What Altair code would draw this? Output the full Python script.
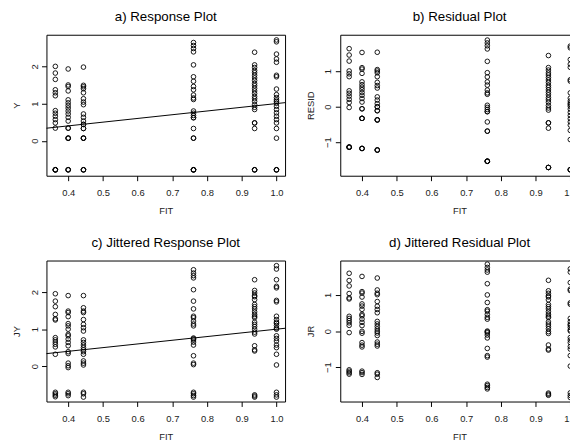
import altair as alt
import pandas as pd

# ---- data ----
fit_levels = [0.363, 0.400, 0.444, 0.761, 0.937, 1.000]

y_c1 = [2.00, 1.82, 1.65, 1.37, 1.29, 1.21, 0.81, 0.74, 0.66, 0.57, 0.48, 0.34, -0.78, -0.78, -0.78, -0.78]
jy_c1 = [1.96, 1.76, 1.61, 1.40, 1.28, 1.25, 0.77, 0.71, 0.65, 0.59, 0.52, 0.32, -0.71, -0.75, -0.79, -0.83]

y_c2 = [1.93, 1.50, 1.46, 1.34, 1.10, 1.02, 0.95, 0.88, 0.80, 0.72, 0.63, 0.53, 0.34, 0.34, 0.07, 0.07, 0.07, -0.78, -0.78, -0.78]
jy_c2 = [1.91, 1.49, 1.45, 1.34, 1.15, 1.09, 1.00, 0.86, 0.82, 0.73, 0.64, 0.55, 0.39, 0.34, 0.08, 0.01, -0.04, -0.71, -0.75, -0.80]

y_c3 = [1.98, 1.49, 1.45, 1.40, 1.29, 1.13, 1.04, 0.97, 0.72, 0.63, 0.53, 0.44, 0.44, 0.33, 0.33, 0.07, 0.07, 0.07, -0.78, -0.78, -0.78]
jy_c3 = [1.91, 1.58, 1.49, 1.45, 1.26, 1.13, 1.04, 0.95, 0.71, 0.64, 0.57, 0.50, 0.44, 0.39, 0.32, 0.14, 0.08, 0.03, -0.71, -0.75, -0.84]

y_c4 = [2.64, 2.56, 2.48, 2.39, 2.04, 1.72, 1.60, 1.46, 1.37, 1.23, 1.15, 1.11, 0.80, 0.74, 0.68, 0.62, 0.62, 0.33, 0.07, 0.07, -0.78, -0.78, -0.78, -0.78]
jy_c4 = [2.61, 2.52, 2.45, 2.39, 2.07, 1.76, 1.55, 1.35, 1.31, 1.22, 1.14, 1.09, 0.76, 0.74, 0.71, 0.65, 0.57, 0.28, 0.08, 0.04, -0.71, -0.75, -0.80, -0.84]

y_c5 = [2.38, 2.04, 1.97, 1.89, 1.83, 1.76, 1.69, 1.62, 1.54, 1.48, 1.41, 1.34, 1.27, 1.19, 1.13, 1.06, 0.97, 0.90, 0.84, 0.48, 0.48, 0.33, -0.78, -0.78, -0.78]
jy_c5 = [2.34, 2.05, 1.98, 1.91, 1.88, 1.80, 1.67, 1.61, 1.55, 1.47, 1.40, 1.35, 1.31, 1.19, 1.13, 1.07, 1.00, 0.92, 0.87, 0.55, 0.44, 0.41, -0.78, -0.81, -0.84]

y_c6 = [2.71, 2.66, 2.33, 2.20, 2.11, 1.76, 1.72, 1.39, 1.24, 1.16, 1.10, 1.06, 1.01, 0.93, 0.84, 0.75, 0.66, 0.57, 0.48, 0.33, 0.07, -0.78, -0.78, -0.78]
jy_c6 = [2.72, 2.63, 2.34, 2.16, 2.12, 1.78, 1.74, 1.35, 1.26, 1.19, 1.16, 1.10, 1.03, 1.00, 0.82, 0.75, 0.68, 0.57, 0.50, 0.32, 0.03, -0.71, -0.78, -0.84]

x_ticks = [0.4, 0.5, 0.6, 0.7, 0.8, 0.9, 1.0]
line_x = [0.3, 1.1]   # identity line Y = FIT

# ---- table ----
rows = []
for f, ys, jys in zip(fit_levels,
                      [y_c1, y_c2, y_c3, y_c4, y_c5, y_c6],
                      [jy_c1, jy_c2, jy_c3, jy_c4, jy_c5, jy_c6]):
    for y, jy in zip(ys, jys):
        rows.append({"FIT": f, "Y": y, "JY": jy})
df = pd.DataFrame(rows)
line_df = pd.DataFrame({"lx": line_x, "ly": line_x})

FONT = "Liberation Sans"
XDOM = [0.3374, 1.0247]
W, H = 242, 143


def panel(title, field, ytitle, ydom, yticks, with_line):
    xscale = alt.Scale(domain=XDOM, nice=False, zero=False)
    yscale = alt.Scale(domain=ydom, nice=False, zero=False)
    xaxis = alt.Axis(values=x_ticks, format=".1f", title="FIT")
    yaxis = alt.Axis(values=yticks, format="d", title=ytitle, labelAngle=270)
    pts = (
        alt.Chart(df)
        .transform_calculate(RESID="datum.Y - datum.FIT", JR="datum.JY - datum.FIT")
        .mark_point(shape="circle", filled=False, color="black", size=22,
                    strokeWidth=0.9, opacity=1, clip=True)
        .encode(
            x=alt.X("FIT:Q", scale=xscale, axis=xaxis),
            y=alt.Y(f"{field}:Q", scale=yscale, axis=yaxis),
        )
    )
    layers = [pts]
    if with_line:
        ln = (
            alt.Chart(line_df)
            .mark_line(color="black", strokeWidth=1, clip=True)
            .encode(x=alt.X("lx:Q", scale=xscale, axis=xaxis),
                    y=alt.Y("ly:Q", scale=yscale, axis=yaxis))
        )
        layers.append(ln)
    return alt.layer(*layers).properties(
        width=W, height=H,
        title=alt.TitleParams(title, font=FONT, fontSize=13.5, fontWeight="normal",
                              color="black", anchor="middle", frame="group",
                              baseline="alphabetic", offset=10.5, dy=10.5),
    )


a = panel("a) Response Plot", "Y", "Y", [-0.94, 2.85], [0, 1, 2], True)
b = panel("b) Residual Plot", "RESID", "RESID", [-1.95, 2.03], [-1, 0, 1], False)
c = panel("c) Jittered Response Plot", "JY", "JY", [-0.96, 2.86], [0, 1, 2], True)
d = panel("d) Jittered Residual Plot", "JR", "JR", [-1.95, 1.95], [-1, 0, 1], False)

chart = (
    alt.concat(a, b, c, d, columns=2, spacing={"row": 86, "column": 56}, bounds="flush")
    .properties(
        autosize=alt.AutoSizeParams(type="none"),
        padding={"left": 39, "top": 24, "right": 531, "bottom": 415},
        background="white",
    )
    .configure_view(stroke="black", strokeWidth=1)
    .configure_axis(
        grid=False, domain=False,
        labelFont=FONT, labelFontSize=9.5, labelColor="#222",
        titleFont=FONT, titleFontSize=9.5, titleFontWeight="normal", titleColor="#222",
        tickColor="black", tickSize=5, tickWidth=1,
    )
    .configure_axisX(labelPadding=7.5, titlePadding=8.5)
    .configure_axisY(labelPadding=2.5, titlePadding=8)
)

chart.save("out.html", embed_options={"renderer": "svg", "actions": False})
